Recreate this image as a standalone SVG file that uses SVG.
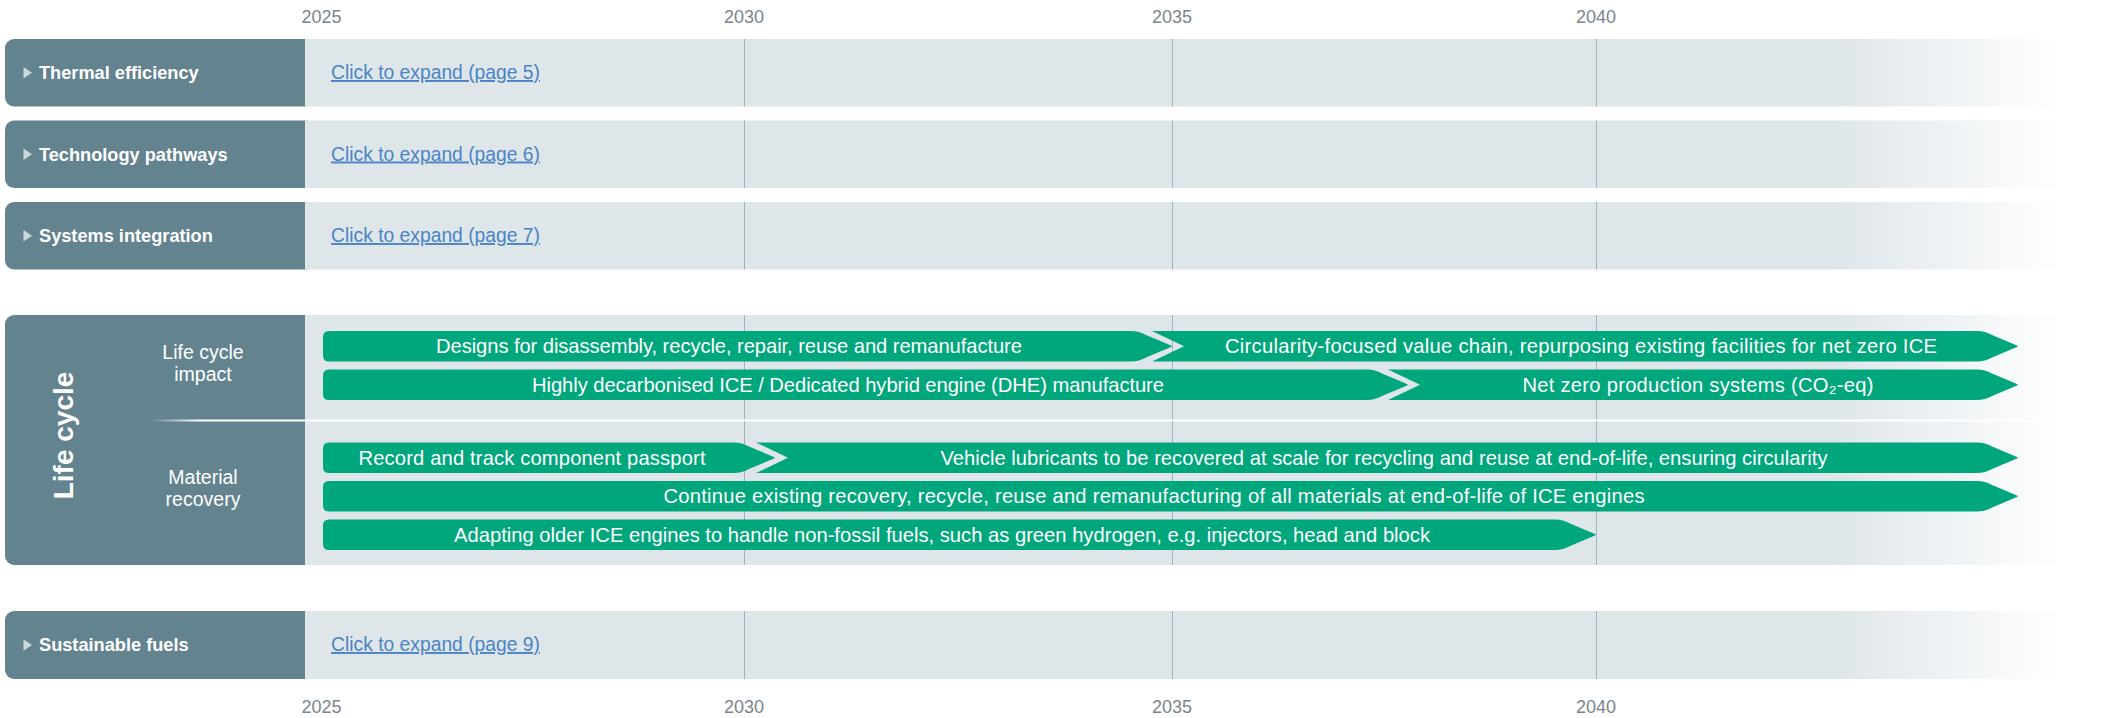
<svg xmlns="http://www.w3.org/2000/svg" width="2107" height="718" viewBox="0 0 2107 718">
  <defs>
    <linearGradient id="laneFill" gradientUnits="userSpaceOnUse" x1="305" y1="0" x2="2107" y2="0">
      <stop offset="0" stop-color="#dfe6ea"/>
      <stop offset="0.85" stop-color="#dfe6ea"/>
      <stop offset="0.975" stop-color="#ffffff"/>
      <stop offset="1" stop-color="#ffffff"/>
    </linearGradient>
    <linearGradient id="dividerFill" gradientUnits="userSpaceOnUse" x1="150" y1="0" x2="200" y2="0">
      <stop offset="0" stop-color="#ffffff" stop-opacity="0"/>
      <stop offset="1" stop-color="#ffffff" stop-opacity="1"/>
    </linearGradient>
    <style>
      .head { fill: #63838f; }
      .lane { fill: url(#laneFill); }
      .grid { stroke: #9db2bc; stroke-width: 1; fill: none; }
      .year { font-family: "Liberation Sans", Arial, sans-serif; font-size: 18px; fill: #7b848b; text-anchor: middle; }
      .title { font-family: "Liberation Sans", Arial, sans-serif; font-size: 18.2px; font-weight: bold; fill: #ffffff; }
      .tri { fill: #ccd6db; }
      .link { font-family: "Liberation Sans", Arial, sans-serif; font-size: 19.3px; fill: #4a84c6; text-decoration: underline; }
      .sub { font-family: "Liberation Sans", Arial, sans-serif; font-size: 19.5px; fill: #ffffff; text-anchor: middle; }
      .big { font-family: "Liberation Sans", Arial, sans-serif; font-size: 28px; font-weight: bold; fill: #ffffff; text-anchor: middle; }
      .bar { fill: #00a67c; }
      .btxt { font-family: "Liberation Sans", Arial, sans-serif; font-size: 20.2px; fill: #ffffff; text-anchor: middle; }
    </style>
  </defs>

  <rect width="2107" height="718" fill="#ffffff"/>

  <!-- year scale, top -->
  <g id="years-top">
    <text class="year" x="321.5" y="22.5">2025</text>
    <text class="year" x="744" y="22.5">2030</text>
    <text class="year" x="1172" y="22.5">2035</text>
    <text class="year" x="1596" y="22.5">2040</text>
  </g>

  <!-- collapsed theme rows -->
  <g id="row-thermal">
    <rect class="head" x="5" y="39" width="310" height="67.5" rx="9"/>
    <rect class="lane" x="305" y="39" width="1802" height="67.5"/>
    <polygon class="tri" points="23.5,67 32,72.75 23.5,78.5"/>
    <text class="title" x="39" y="79">Thermal efficiency</text>
    <text class="link" x="331" y="79">Click to expand (page 5)</text>
  </g>
  <g id="row-technology">
    <rect class="head" x="5" y="120.5" width="310" height="67.5" rx="9"/>
    <rect class="lane" x="305" y="120.5" width="1802" height="67.5"/>
    <polygon class="tri" points="23.5,148.5 32,154.25 23.5,160"/>
    <text class="title" x="39" y="160.5">Technology pathways</text>
    <text class="link" x="331" y="160.5">Click to expand (page 6)</text>
  </g>
  <g id="row-systems">
    <rect class="head" x="5" y="202" width="310" height="67.5" rx="9"/>
    <rect class="lane" x="305" y="202" width="1802" height="67.5"/>
    <polygon class="tri" points="23.5,230 32,235.75 23.5,241.5"/>
    <text class="title" x="39" y="242">Systems integration</text>
    <text class="link" x="331" y="242">Click to expand (page 7)</text>
  </g>

  <!-- expanded life cycle row -->
  <g id="row-lifecycle">
    <rect class="head" x="5" y="315" width="310" height="250" rx="9"/>
    <rect class="lane" x="305" y="315" width="1802" height="250"/>
    <text class="big" transform="translate(73,435.5) rotate(-90)">Life cycle</text>
    <text class="sub" x="203" y="359">Life cycle</text>
    <text class="sub" x="203" y="380.7">impact</text>
    <text class="sub" x="203" y="484">Material</text>
    <text class="sub" x="203" y="505.7">recovery</text>
  </g>

  <g id="row-fuels">
    <rect class="head" x="5" y="611" width="310" height="68" rx="9"/>
    <rect class="lane" x="305" y="611" width="1802" height="68"/>
    <polygon class="tri" points="23.5,639.25 32,645 23.5,650.75"/>
    <text class="title" x="39" y="651">Sustainable fuels</text>
    <text class="link" x="331" y="651">Click to expand (page 9)</text>
  </g>

  <!-- five-year grid lines inside each lane -->
  <g id="gridlines">
    <path class="grid" d="M744.5,39 V106.5 M1172.5,39 V106.5 M1596.5,39 V106.5"/>
    <path class="grid" d="M744.5,120.5 V188 M1172.5,120.5 V188 M1596.5,120.5 V188"/>
    <path class="grid" d="M744.5,202 V269.5 M1172.5,202 V269.5 M1596.5,202 V269.5"/>
    <path class="grid" d="M744.5,315 V565 M1172.5,315 V565 M1596.5,315 V565"/>
    <path class="grid" d="M744.5,611 V679 M1172.5,611 V679 M1596.5,611 V679"/>
  </g>

  <!-- divider between the two life cycle sub-themes -->
  <rect id="lifecycle-divider" x="150" y="419.5" width="1957" height="2" fill="url(#dividerFill)"/>

  <!-- activity bars -->
  <g id="bars">
    <g id="bar-designs">
      <path class="bar" d="M329,331 H1131 Q1139,331 1146,335 L1171,345.45 Q1172.5,346.25 1171,347.05 L1146,357.5 Q1139,361.5 1131,361.5 H329 Q323,361.5 323,355.5 V337 Q323,331 329,331 Z"/>
      <text class="btxt" x="729" y="353.3" textLength="586">Designs for disassembly, recycle, repair, reuse and remanufacture</text>
    </g>
    <g id="bar-circularity">
      <path class="bar" d="M1152,331 H1977 Q1985,331 1992,335 L2017,345.45 Q2018.5,346.25 2017,347.05 L1992,357.5 Q1985,361.5 1977,361.5 H1152 L1184,346.25 Z"/>
      <text class="btxt" x="1581" y="353.3" textLength="712">Circularity-focused value chain, repurposing existing facilities for net zero ICE</text>
    </g>
    <g id="bar-decarbonised">
      <path class="bar" d="M329,369.5 H1367 Q1375,369.5 1382,373.5 L1407,383.95 Q1408.5,384.75 1407,385.55 L1382,396 Q1375,400 1367,400 H329 Q323,400 323,394 V375.5 Q323,369.5 329,369.5 Z"/>
      <text class="btxt" x="848" y="391.8" textLength="632">Highly decarbonised ICE / Dedicated hybrid engine (DHE) manufacture</text>
    </g>
    <g id="bar-netzero">
      <path class="bar" d="M1388,369.5 H1977 Q1985,369.5 1992,373.5 L2017,383.95 Q2018.5,384.75 2017,385.55 L1992,396 Q1985,400 1977,400 H1388 L1420,384.75 Z"/>
      <text class="btxt" x="1698" y="391.8" textLength="351">Net zero production systems (CO₂-eq)</text>
    </g>
    <g id="bar-passport">
      <path class="bar" d="M329,442.5 H734 Q742,442.5 749,446.5 L774,456.95 Q775.5,457.75 774,458.55 L749,469 Q742,473 734,473 H329 Q323,473 323,467 V448.5 Q323,442.5 329,442.5 Z"/>
      <text class="btxt" x="532" y="464.8" textLength="347">Record and track component passport</text>
    </g>
    <g id="bar-lubricants">
      <path class="bar" d="M756,442.5 H1977 Q1985,442.5 1992,446.5 L2017,456.95 Q2018.5,457.75 2017,458.55 L1992,469 Q1985,473 1977,473 H756 L788,457.75 Z"/>
      <text class="btxt" x="1384" y="464.8" textLength="887">Vehicle lubricants to be recovered at scale for recycling and reuse at end-of-life, ensuring circularity</text>
    </g>
    <g id="bar-recovery">
      <path class="bar" d="M329,481 H1977 Q1985,481 1992,485 L2017,495.45 Q2018.5,496.25 2017,497.05 L1992,507.5 Q1985,511.5 1977,511.5 H329 Q323,511.5 323,505.5 V487 Q323,481 329,481 Z"/>
      <text class="btxt" x="1154" y="503.3" textLength="981">Continue existing recovery, recycle, reuse and remanufacturing of all materials at end-of-life of ICE engines</text>
    </g>
    <g id="bar-adapting">
      <path class="bar" d="M329,519.5 H1555 Q1563,519.5 1570,523.5 L1595,533.95 Q1596.5,534.75 1595,535.55 L1570,546 Q1563,550 1555,550 H329 Q323,550 323,544 V525.5 Q323,519.5 329,519.5 Z"/>
      <text class="btxt" x="942" y="541.8" textLength="976">Adapting older ICE engines to handle non-fossil fuels, such as green hydrogen, e.g. injectors, head and block</text>
    </g>
  </g>

  <!-- year scale, bottom -->
  <g id="years-bottom">
    <text class="year" x="321.5" y="713">2025</text>
    <text class="year" x="744" y="713">2030</text>
    <text class="year" x="1172" y="713">2035</text>
    <text class="year" x="1596" y="713">2040</text>
  </g>
</svg>
